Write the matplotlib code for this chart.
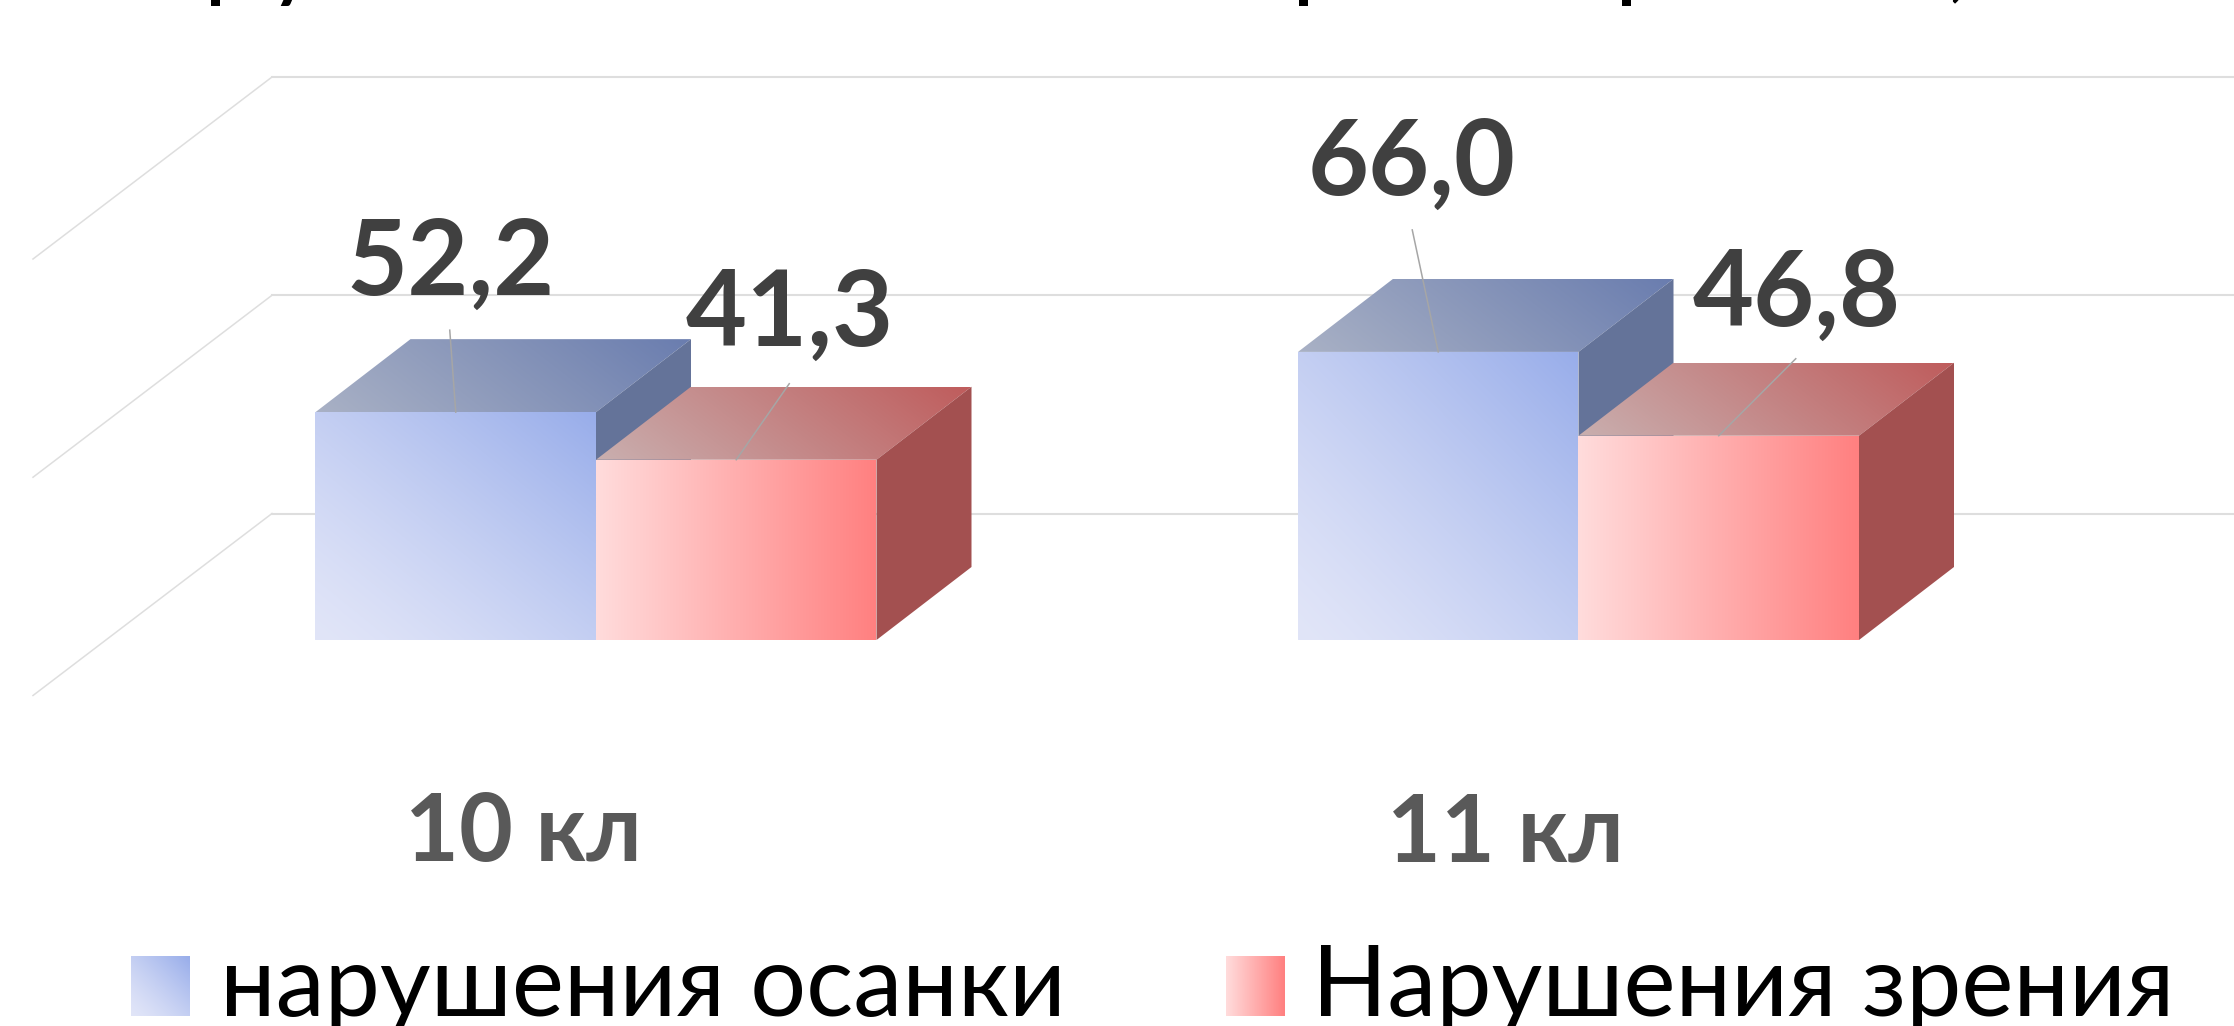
import numpy as np
import matplotlib
matplotlib.use("Agg")
import matplotlib.pyplot as plt
from matplotlib.colors import to_rgb
from matplotlib.patches import Polygon

categories = ["10 кл", "11 кл"]
posture = [52.2, 66.0]
vision = [41.3, 46.8]
series_names = ["нарушения осанки", "Нарушения зрения"]
grid_values = [0, 50, 100]
title_fragments = ["р", "у", "р", "р", ","]

W, H = 2234, 1026
BASE_PX = 640
PX_PER_UNIT = 4.365
PX_PER_CAT = 982.5
FIRST_CAT_PX = 596

fig = plt.figure(figsize=(W / 100, H / 100), dpi=100, facecolor="white")
ax = fig.add_axes([0, 1 - BASE_PX / H, 1, BASE_PX / H])
XLIM = (-FIRST_CAT_PX / PX_PER_CAT, (W - FIRST_CAT_PX) / PX_PER_CAT)
YLIM = (0, BASE_PX / PX_PER_UNIT)
ax.set_xlim(*XLIM)
ax.set_ylim(*YLIM)
for s in ax.spines.values():
    s.set_visible(False)
ax.yaxis.set_visible(False)
ax.patch.set_alpha(0)

def X(px):
    return px / PX_PER_CAT

def Y(px):
    return px / PX_PER_UNIT

BAR_W = X(280.5)
DX, DY = X(95), Y(73)
WALL_DY = Y(126.5)
FLOOR_DX, FLOOR_DY = X(239), Y(182)

def ramp(c0, c1, wu, wv, gamma, n=128):
    u, v = np.meshgrid(np.linspace(0, 1, n), np.linspace(0, 1, n))
    t = (np.clip(wu * u + wv * v, 0, 1) ** gamma)[..., None]
    return (1 - t) * np.array(to_rgb(c0)) + t * np.array(to_rgb(c1))

def grad_poly(pts, c0, c1, wu, wv, gamma, zorder):
    pts = np.array(pts)
    x0, y0 = pts.min(axis=0)
    x1, y1 = pts.max(axis=0)
    im = ax.imshow(ramp(c0, c1, wu, wv, gamma), extent=(x0, x1, y0, y1), origin="lower",
                   aspect="auto", interpolation="bilinear", zorder=zorder)
    patch = Polygon(pts, closed=True, transform=ax.transData, fc="none", ec="none")
    ax.add_patch(patch)
    im.set_clip_path(patch)
    ax.set_xlim(*XLIM)
    ax.set_ylim(*YLIM)

def bar3d(x0, value, front, top, side, wu, wv, gamma, z):
    x1 = x0 + BAR_W
    grad_poly([(x0, 0), (x1, 0), (x1, value), (x0, value)], front[0], front[1], wu, wv, gamma, z + 0.2)
    grad_poly([(x0, value), (x1, value), (x1 + DX, value + DY), (x0 + DX, value + DY)],
              top[0], top[1], 0.8, 0.2, 1.0, z)
    ax.add_patch(Polygon([(x1, 0), (x1 + DX, DY), (x1 + DX, value + DY), (x1, value)],
                         closed=True, fc=side, ec="none", zorder=z + 0.1))

wall_left = XLIM[0] + X(272)
for g in grid_values:
    y = g + WALL_DY
    ax.plot([wall_left, XLIM[1]], [y, y], color="#DEDEDE", lw=1.5, zorder=1, clip_on=False)
    ax.plot([wall_left, wall_left - FLOOR_DX], [y, y - FLOOR_DY], color="#DEDEDE", lw=1.1,
            zorder=1, clip_on=False)

BLUE = dict(front=("#E1E5F8", "#98ADEA"), top=("#A9B1C5", "#6A7DAF"), side="#647399", wu=0.5, wv=0.5, gamma=1.3)
RED = dict(front=("#FFDCDC", "#FF8080"), top=("#C9AFAF", "#BF5C5C"), side="#A35050", wu=1.0, wv=0.0, gamma=1.0)

label_font = ["Lato", "DejaVu Sans"]
# label centre and leader-line end, as pixel offsets from the bar's top-centre
offs_blue = [(-5, 117, -6, 82), (-27, 157, -26, 122)]
offs_red = [(54, 114, 53, 76), (78, 110, 77, 77)]

for i in range(len(categories)):
    xl = i - BAR_W
    bar3d(xl, posture[i], z=3 + i, **BLUE)
    bar3d(i, vision[i], z=3.5 + i, **RED)
    for xleft, val, off in ((xl, posture[i], offs_blue[i]), (i, vision[i], offs_red[i])):
        xc = xleft + BAR_W / 2
        ax.plot([xc, xc + X(off[2])], [val, val + Y(off[3])], color="#A6A6A6", lw=1.1, zorder=8)
        ax.text(xc + X(off[0]), val + Y(off[1]), f"{val:.1f}".replace(".", ","), ha="center",
                va="baseline", fontsize=76, fontweight="bold", color="#404040",
                family=label_font, zorder=9)

ax.set_xticks([i - X(73) for i in range(len(categories))], categories)
ax.tick_params(axis="x", length=0, pad=(791 - BASE_PX) * 0.72, labelsize=67, labelcolor="#595959")
for t in ax.get_xticklabels():
    t.set_fontweight("bold")
    t.set_family(label_font)

lg = fig.add_axes([0, 0, 1, 1])
lg.set_xlim(0, W)
lg.set_ylim(H, 0)
lg.axis("off")

def swatch(x0, st):
    lg.imshow(ramp(st["front"][0], st["front"][1], st["wu"], st["wv"], st["gamma"], 64),
              extent=(x0, x0 + 59, 1016, 956), origin="lower", aspect="auto", interpolation="bilinear")
    lg.set_xlim(0, W)
    lg.set_ylim(H, 0)

swatch(131, BLUE)
swatch(1226, RED)
for tx, name in ((220, series_names[0]), (1312, series_names[1])):
    lg.text(tx, 1016, name, fontsize=71, color="black", family=label_font, ha="left", va="baseline")

# descenders of the title, whose upper part lies above the picture
for tx, frag in zip((204, 268, 1292, 1615, 1947), title_fragments):
    lg.text(tx, -11, frag, fontsize=72, color="black", family=label_font, ha="left", va="baseline",
            clip_on=False)

fig.savefig("out.png", dpi=100)
